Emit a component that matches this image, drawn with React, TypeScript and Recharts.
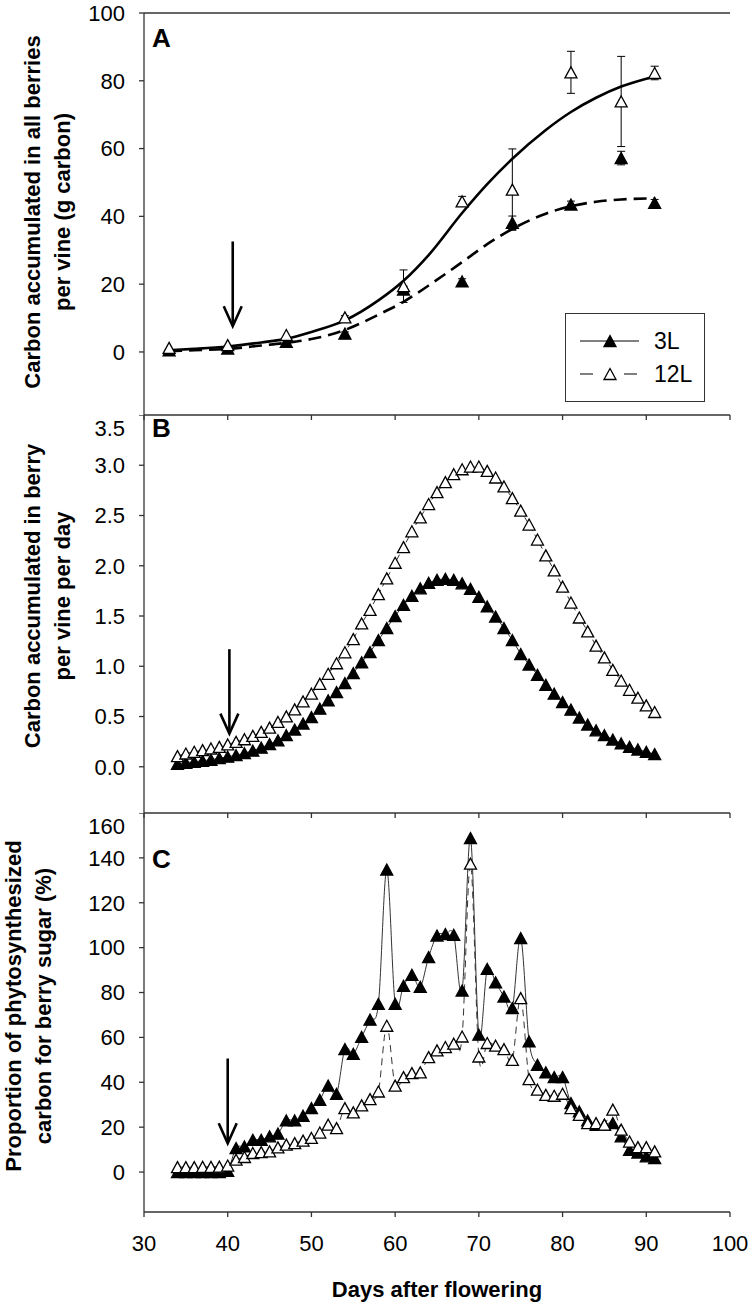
import React from 'react';
import { ComposedChart, Line, Scatter, XAxis, YAxis, ErrorBar, ReferenceLine } from 'recharts';

const FONT = '"Liberation Sans", Arial, Helvetica, sans-serif';

// Panel A - measured carbon in all berries per vine (g carbon)
const daysA = [33, 40, 47, 54, 61, 68, 74, 81, 87, 91];
const obsA3L = [0.5, 1.0, 3.0, 5.4, 18.4, 20.8, 38.1, 43.5, 57.2, 44.0];
const errA3L = [0, 0, 0, 0.5, 1.0, 0.8, 2.0, 1.0, 2.0, 1.0];
const obsA12L = [1.2, 2.0, 5.0, 10.2, 19.4, 44.4, 47.9, 82.5, 73.9, 82.3];
const errA12L = [0, 0, 0, 0.5, 4.8, 1.5, 12.0, 6.2, 13.3, 2.0];

// Panel A - fitted curves
const fitDays = [33, 36, 40, 44, 47, 50, 54, 58, 61, 64, 68, 71, 74, 78, 81, 84, 87, 91];
const fitSolid = [0.5, 0.9, 1.6, 2.8, 3.9, 5.9, 9.3, 15.2, 21.0, 28.6, 41.0, 49.5, 57.0, 65.5, 70.8, 75.0, 78.3, 81.3];
const fitDashed = [0.2, 0.5, 0.9, 1.9, 2.7, 3.8, 6.5, 11.0, 14.8, 19.6, 26.5, 31.8, 36.3, 40.8, 43.0, 44.3, 45.0, 45.3];

// Panels B and C - daily values
const daysBC = [
  34, 35, 36, 37, 38, 39, 40, 41, 42, 43, 44, 45, 46, 47, 48, 49, 50, 51, 52, 53,
  54, 55, 56, 57, 58, 59, 60, 61, 62, 63, 64, 65, 66, 67, 68, 69, 70, 71, 72, 73,
  74, 75, 76, 77, 78, 79, 80, 81, 82, 83, 84, 85, 86, 87, 88, 89, 90, 91,
];
const dayB3L = [
  0.03, 0.04, 0.05, 0.06, 0.07, 0.085, 0.1, 0.115, 0.135, 0.16, 0.19, 0.225, 0.264, 0.314, 0.37, 0.43, 0.495, 0.578, 0.66, 0.743,
  0.832, 0.931, 1.04, 1.14, 1.26, 1.38, 1.5, 1.61, 1.7, 1.775, 1.83, 1.86, 1.87, 1.86, 1.825, 1.77, 1.69, 1.595, 1.495, 1.38,
  1.26, 1.122, 1.017, 0.915, 0.816, 0.727, 0.644, 0.568, 0.489, 0.42, 0.363, 0.314, 0.271, 0.232, 0.198, 0.172, 0.149, 0.126,
];
const dayB12L = [
  0.106, 0.132, 0.149, 0.165, 0.182, 0.198, 0.222, 0.248, 0.274, 0.307, 0.347, 0.39, 0.446, 0.502, 0.571, 0.65, 0.727, 0.825, 0.925, 1.03,
  1.139, 1.27, 1.426, 1.561, 1.717, 1.875, 2.03, 2.185, 2.343, 2.482, 2.614, 2.733, 2.832, 2.911, 2.96, 2.987, 2.987, 2.944, 2.878, 2.789,
  2.673, 2.548, 2.41, 2.261, 2.103, 1.954, 1.792, 1.634, 1.485, 1.347, 1.205, 1.089, 0.964, 0.858, 0.766, 0.687, 0.611, 0.545,
];
const propC3L = [
  0, 0, 0, 0, 0, 0, 0.5, 10.7, 11.4, 14.4, 14.4, 15.9, 17.1, 23, 23, 25.1, 28.5, 32.2, 38.5, 34.8,
  54.8, 52.7, 60.2, 67.9, 74.9, 134.8, 75, 83, 87.9, 82.5, 95.8, 105.4, 106, 105.7, 80.9, 148.8, 61.2, 90.5, 84.5, 78.2,
  73.1, 104.3, 58.2, 47.8, 44.4, 42.3, 42.3, 30.7, 27, 23, 21, 21, 21.8, 15.9, 9.9, 8.7, 7, 6.2,
];
const propC12L = [
  2.2, 2.2, 2.2, 2.3, 2.3, 2.4, 2.9, 5.5, 6.7, 8.5, 8.9, 9.2, 11, 12.2, 12.9, 14, 15.2, 17.6, 21.1, 19.6,
  28.5, 26.6, 29.7, 32.5, 35.9, 65.2, 38.5, 42.3, 44.1, 44.4, 51.2, 54.2, 55.7, 57.2, 60.4, 137.4, 51.5, 57.5, 56.3, 54.8,
  50, 77.5, 41.4, 36.7, 34.4, 34, 34.9, 28.5, 25.5, 21.8, 21.8, 21.1, 27.8, 18.9, 13.6, 11.1, 11.1, 9.2,
];

const xTicks = [30, 40, 50, 60, 70, 80, 90, 100];
const ticksA = [0, 20, 40, 60, 80, 100];
const ticksB = [0, 0.5, 1.0, 1.5, 2.0, 2.5, 3.0, 3.5];
const ticksC = [0, 20, 40, 60, 80, 100, 120, 140, 160];

const obsRows3L = daysA.map((d, i) => ({ day: d, v: obsA3L[i], e: errA3L[i] }));
const obsRows12L = daysA.map((d, i) => ({ day: d, v: obsA12L[i], e: errA12L[i] }));
const fitRows = fitDays.map((d, i) => ({ day: d, solid: fitSolid[i], dashed: fitDashed[i] }));
const rowsB = daysBC.map((d, i) => ({ day: d, l3: dayB3L[i], l12: dayB12L[i] }));
const rowsC = daysBC.map((d, i) => ({ day: d, l3: propC3L[i], l12: propC12L[i] }));

// smooth line through the points, the way the spreadsheet draws it
function smoothCurve(context: any) {
  let pts: number[][] = [];
  return {
    areaStart() {},
    areaEnd() {},
    lineStart() {
      pts = [];
    },
    lineEnd() {
      if (!pts.length) return;
      context.moveTo(pts[0][0], pts[0][1]);
      for (let i = 0; i < pts.length - 1; i++) {
        const p0 = pts[i - 1] || pts[i];
        const p1 = pts[i];
        const p2 = pts[i + 1];
        const p3 = pts[i + 2] || p2;
        context.bezierCurveTo(
          p1[0] + (p2[0] - p0[0]) / 6,
          p1[1] + (p2[1] - p0[1]) / 6,
          p2[0] - (p3[0] - p1[0]) / 6,
          p2[1] - (p3[1] - p1[1]) / 6,
          p2[0],
          p2[1]
        );
      }
    },
    point(x: number, y: number) {
      pts.push([+x, +y]);
    },
  };
}

const Tri = ({ cx, cy, filled }: { cx: number; cy: number; filled: boolean }) => {
  if (cx == null || cy == null) return <g />;
  const w = 12;
  const h = 11;
  return (
    <polygon
      points={`${cx},${cy - h / 2} ${cx + w / 2},${cy + h / 2} ${cx - w / 2},${cy + h / 2}`}
      fill={filled ? '#000' : '#fff'}
      stroke="#000"
      strokeWidth={1.3}
    />
  );
};

const Arrow = (props: any) => {
  const { x1, y1, y2 } = props;
  const top = Math.min(y1, y2);
  const tip = Math.max(y1, y2);
  return (
    <g>
      <line x1={x1} y1={top} x2={x1} y2={tip - 1} stroke="#000" strokeWidth={2.6} />
      <polyline
        points={`${x1 - 9},${tip - 20} ${x1},${tip} ${x1 + 9},${tip - 20}`}
        fill="none"
        stroke="#000"
        strokeWidth={2.6}
      />
    </g>
  );
};

const NoLabel = () => <g />;
const axisLine = { stroke: '#333', strokeWidth: 1.3 };
const tickStyle = { fontSize: 22, fill: '#000', fontFamily: FONT };

const YTitle = ({ cx, cy, lines }: { cx: number; cy: number; lines: string[] }) => (
  <div
    style={{
      position: 'absolute',
      left: cx - 230,
      top: cy - 30,
      width: 460,
      height: 60,
      transform: 'rotate(-90deg)',
      textAlign: 'center',
      fontFamily: FONT,
      fontWeight: 'bold',
      fontSize: 22,
      lineHeight: '30px',
      color: '#000',
      whiteSpace: 'nowrap',
    }}
  >
    {lines.map((l) => (
      <div key={l}>{l}</div>
    ))}
  </div>
);

const PanelLetter = ({ top, text }: { top: number; text: string }) => (
  <div
    style={{
      position: 'absolute',
      left: 152,
      top,
      fontFamily: FONT,
      fontWeight: 'bold',
      fontSize: 26,
      lineHeight: 1,
    }}
  >
    {text}
  </div>
);

export default function App() {
  return (
    <div style={{ position: 'absolute', left: 0, top: 0, width: 754, height: 1308, background: '#fff' }}>
      {/* A */}
      <div style={{ position: 'absolute', left: 0, top: 0 }}>
        <ComposedChart width={754} height={430} margin={{ top: 13, right: 24, bottom: 0, left: 0 }}>
          <XAxis
            dataKey="day"
            type="number"
            domain={[30, 100]}
            ticks={xTicks}
            height={15}
            tickSize={5}
            tick={NoLabel}
            axisLine={axisLine}
            tickLine={axisLine}
            allowDuplicatedCategory={false}
          />
          <YAxis
            type="number"
            domain={[-18.6, 100]}
            ticks={ticksA}
            width={144}
            tickSize={5}
            tickMargin={14}
            tick={tickStyle}
            axisLine={axisLine}
            tickLine={axisLine}
            allowDataOverflow
          />
          <ReferenceLine y={100} stroke="#333" strokeWidth={1.3} />
          <ReferenceLine
            segment={[{ x: 40.6, y: 32.6 }, { x: 40.6, y: 7.6 }]}
            shape={Arrow}
          />
          <Line
            data={fitRows}
            dataKey="dashed"
            type="monotone"
            stroke="#000"
            strokeWidth={2.6}
            strokeDasharray="13 7"
            dot={false}
            isAnimationActive={false}
          />
          <Line
            data={fitRows}
            dataKey="solid"
            type="monotone"
            stroke="#000"
            strokeWidth={2.6}
            dot={false}
            isAnimationActive={false}
          />
          <Scatter
            data={obsRows3L}
            dataKey="v"
            isAnimationActive={false}
            shape={(p: any) => <Tri cx={p.cx} cy={p.cy} filled />}
          >
            <ErrorBar dataKey="e" direction="y" width={4} stroke="#000" strokeWidth={1} />
          </Scatter>
          <Scatter
            data={obsRows12L}
            dataKey="v"
            isAnimationActive={false}
            shape={(p: any) => <Tri cx={p.cx} cy={p.cy} filled={false} />}
          >
            <ErrorBar dataKey="e" direction="y" width={4} stroke="#000" strokeWidth={1} />
          </Scatter>
        </ComposedChart>
      </div>

      {/* B */}
      <div style={{ position: 'absolute', left: 0, top: 415 }}>
        <ComposedChart width={754} height={413} data={rowsB} margin={{ top: 0, right: 24, bottom: 0, left: 0 }}>
          <XAxis
            dataKey="day"
            type="number"
            domain={[30, 100]}
            ticks={xTicks}
            height={15}
            tickSize={5}
            tick={NoLabel}
            axisLine={axisLine}
            tickLine={axisLine}
          />
          <YAxis
            type="number"
            domain={[-0.46, 3.5]}
            ticks={ticksB}
            tickFormatter={(v: number) => v.toFixed(1)}
            width={144}
            tickSize={5}
            tickMargin={14}
            tick={tickStyle}
            axisLine={axisLine}
            tickLine={axisLine}
            allowDataOverflow
          />
          <ReferenceLine
            segment={[{ x: 40.2, y: 1.17 }, { x: 40.2, y: 0.33 }]}
            shape={Arrow}
          />
          <Line
            dataKey="l3"
            type="linear"
            stroke="#333"
            strokeWidth={1}
            dot={(p: any) => <Tri key={`b3-${p.index}`} cx={p.cx} cy={p.cy} filled />}
            isAnimationActive={false}
          />
          <Line
            dataKey="l12"
            type="linear"
            stroke="#333"
            strokeWidth={1}
            strokeDasharray="6 4"
            dot={(p: any) => <Tri key={`b12-${p.index}`} cx={p.cx} cy={p.cy} filled={false} />}
            isAnimationActive={false}
          />
        </ComposedChart>
      </div>

      {/* C */}
      <div style={{ position: 'absolute', left: 0, top: 813 }}>
        <ComposedChart width={754} height={495} data={rowsC} margin={{ top: 0, right: 24, bottom: 0, left: 0 }}>
          <XAxis
            dataKey="day"
            type="number"
            domain={[30, 100]}
            ticks={xTicks}
            height={96}
            tickSize={5}
            tickMargin={18}
            tick={tickStyle}
            axisLine={axisLine}
            tickLine={axisLine}
          />
          <YAxis
            type="number"
            domain={[-17.8, 160]}
            ticks={ticksC}
            width={144}
            tickSize={5}
            tickMargin={14}
            tick={tickStyle}
            axisLine={axisLine}
            tickLine={axisLine}
            allowDataOverflow
          />
          <ReferenceLine
            segment={[{ x: 40, y: 50.6 }, { x: 40, y: 12.8 }]}
            shape={Arrow}
          />
          <Line
            dataKey="l3"
            type={smoothCurve as any}
            stroke="#333"
            strokeWidth={1}
            dot={(p: any) => <Tri key={`c3-${p.index}`} cx={p.cx} cy={p.cy} filled />}
            isAnimationActive={false}
          />
          <Line
            dataKey="l12"
            type={smoothCurve as any}
            stroke="#333"
            strokeWidth={1}
            strokeDasharray="7 5"
            dot={(p: any) => <Tri key={`c12-${p.index}`} cx={p.cx} cy={p.cy} filled={false} />}
            isAnimationActive={false}
          />
        </ComposedChart>
      </div>

      {/* legend of panel A */}
      <div
        style={{
          position: 'absolute',
          left: 565,
          top: 313,
          width: 140,
          height: 89,
          border: '1.3px solid #333',
          boxSizing: 'border-box',
          background: '#fff',
        }}
      >
        <svg width={140} height={89} style={{ position: 'absolute', left: 0, top: 0 }}>
          <line x1={14} y1={27} x2={73} y2={27} stroke="#000" strokeWidth={1} />
          <Tri cx={44} cy={27} filled />
          <text x={88} y={27} dy="0.36em" fontSize={23} fontFamily={FONT}>3L</text>
          <line x1={14} y1={60} x2={27} y2={60} stroke="#000" strokeWidth={1} />
          <line x1={58} y1={60} x2={71} y2={60} stroke="#000" strokeWidth={1} />
          <Tri cx={44} cy={60} filled={false} />
          <text x={88} y={60} dy="0.36em" fontSize={23} fontFamily={FONT}>12L</text>
        </svg>
      </div>

      <PanelLetter top={25} text="A" />
      <PanelLetter top={415} text="B" />
      <PanelLetter top={846} text="C" />

      <YTitle cx={48} cy={212} lines={['Carbon accumulated in all berries', 'per vine (g carbon)']} />
      <YTitle cx={48} cy={596} lines={['Carbon accumulated in berry', 'per vine per day']} />
      <YTitle cx={29} cy={1006} lines={['Proportion of phytosynthesized', 'carbon for berry sugar (%)']} />

      <div
        style={{
          position: 'absolute',
          left: 237,
          width: 400,
          top: 1276,
          textAlign: 'center',
          fontFamily: FONT,
          fontWeight: 'bold',
          fontSize: 22,
          lineHeight: '28px',
        }}
      >
        Days after flowering
      </div>
    </div>
  );
}
